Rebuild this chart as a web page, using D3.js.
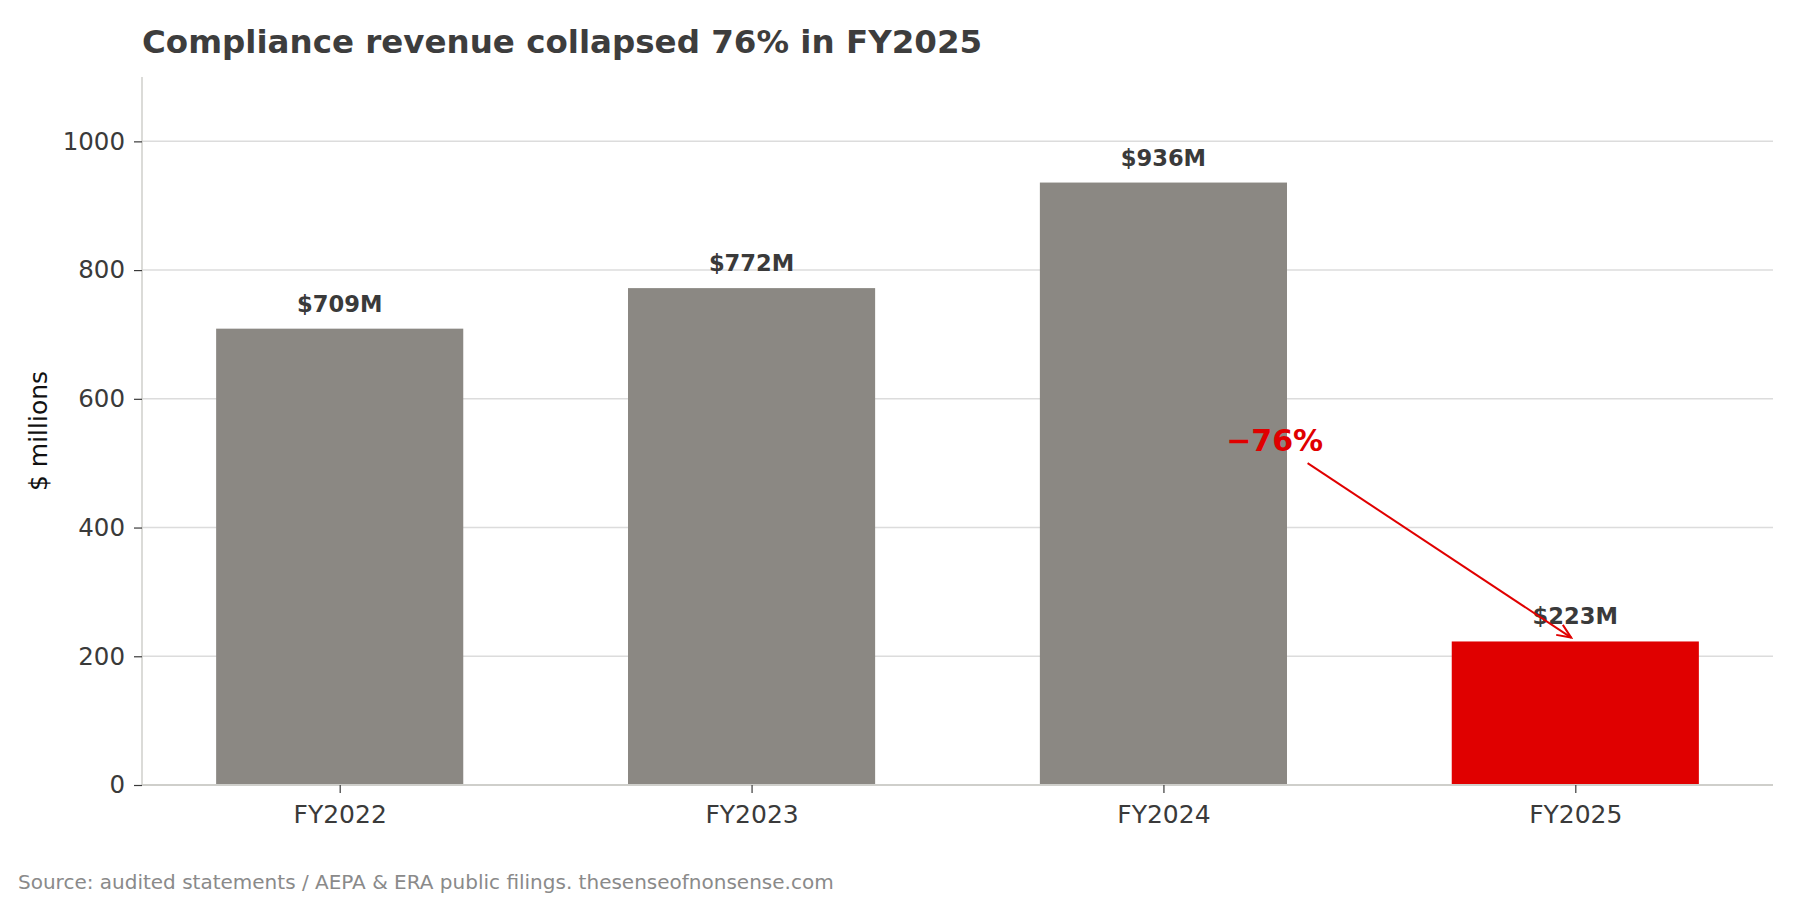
<!DOCTYPE html>
<html>
<head>
<meta charset="utf-8">
<script src="https://cdn.jsdelivr.net/npm/d3@7"></script>
<style>
  body { margin: 0; background: #fff; }
  svg { font-family: "DejaVu Sans", sans-serif; }
</style>
</head>
<body>
<div id="chart"></div>
<script>
// Chart data
const years = ["FY2022", "FY2023", "FY2024", "FY2025"];
const revenue = [709, 772, 936, 223];
const barColors = ["#8b8883", "#8b8883", "#8b8883", "#e00000"];
const yTicks = [0, 200, 400, 600, 800, 1000];

// Annotation: text position and arrow (in data units: bar index, $M)
const noteText = "\u221276%";
const notePos = [2.27, 535];
const arrowFrom = [2.35, 500];
const arrowTo = [2.99, 229];

const width = 1800;
const height = 900;
const margin = { top: 77, right: 27, bottom: 115, left: 142 };

const svg = d3.select("#chart")
    .append("svg")
    .attr("width", width)
    .attr("height", height);

// Scales (matplotlib-like: bars at integer positions, 5% x margins)
const x = d3.scaleLinear()
    .domain([-0.48, 3.48])
    .range([margin.left, width - margin.right]);

const y = d3.scaleLinear()
    .domain([0, 1100])
    .range([height - margin.bottom, margin.top]);

const barWidth = x(0.6) - x(0);

// Grid lines
svg.append("g")
    .selectAll("line")
    .data(yTicks.filter(d => d > 0))
    .join("line")
    .attr("x1", margin.left)
    .attr("x2", width - margin.right)
    .attr("y1", d => y(d))
    .attr("y2", d => y(d))
    .attr("stroke", "#dcdcdc")
    .attr("stroke-width", 1.5);

// Bars
svg.append("g")
    .selectAll("rect")
    .data(revenue)
    .join("rect")
    .attr("x", (d, i) => x(i) - barWidth / 2)
    .attr("y", d => y(d))
    .attr("width", barWidth)
    .attr("height", d => y(0) - y(d))
    .attr("fill", (d, i) => barColors[i]);

// Value labels
svg.append("g")
    .selectAll("text")
    .data(revenue)
    .join("text")
    .attr("x", (d, i) => x(i))
    .attr("y", d => y(d) - 17)
    .attr("text-anchor", "middle")
    .attr("font-size", 22.6)
    .attr("font-weight", "bold")
    .attr("fill", "#3a3a3a")
    .text(d => `$${d}M`);

// Y axis
const yAxis = svg.append("g")
    .attr("transform", `translate(${margin.left},0)`)
    .call(d3.axisLeft(y).tickValues(yTicks).tickSize(8).tickPadding(9).tickFormat(d3.format("d")));
yAxis.select(".domain").attr("stroke", "#cfcfcb").attr("stroke-width", 1.5)
    .attr("d", `M0,${y(0)}V${margin.top}`);
yAxis.selectAll(".tick line").attr("stroke", "#3a3a3a").attr("stroke-width", 1.2);
yAxis.selectAll(".tick text")
    .attr("font-size", 24.5)
    .attr("font-family", "DejaVu Sans")
    .attr("fill", "#3a3a3a");

// X axis
const xAxis = svg.append("g")
    .attr("transform", `translate(0,${y(0)})`)
    .call(d3.axisBottom(x).tickValues(d3.range(years.length)).tickSize(8).tickPadding(12)
        .tickFormat(i => years[i]));
xAxis.select(".domain").attr("stroke", "#cfcfcb").attr("stroke-width", 2)
    .attr("d", `M${margin.left},0H${width - margin.right}`);
xAxis.selectAll(".tick line").attr("stroke", "#3a3a3a").attr("stroke-width", 1.2);
xAxis.selectAll(".tick text")
    .attr("font-size", 25)
    .attr("font-family", "DejaVu Sans")
    .attr("fill", "#3a3a3a");

// Y axis label
svg.append("text")
    .attr("transform", `translate(47,${(y(0) + margin.top) / 2}) rotate(-90)`)
    .attr("text-anchor", "middle")
    .attr("font-size", 25)
    .attr("fill", "#111")
    .text("$ millions");

// Title
svg.append("text")
    .attr("x", margin.left)
    .attr("y", 53)
    .attr("font-size", 32.5)
    .attr("font-weight", "bold")
    .attr("fill", "#3d3d3d")
    .text("Compliance revenue collapsed 76% in FY2025");

// Annotation arrow
svg.append("defs").append("marker")
    .attr("id", "arrowhead")
    .attr("viewBox", "-16 -8 18 16")
    .attr("markerWidth", 18)
    .attr("markerHeight", 16)
    .attr("markerUnits", "userSpaceOnUse")
    .attr("orient", "auto")
    .append("path")
    .attr("d", "M-14,-6L0,0L-14,6")
    .attr("fill", "none")
    .attr("stroke", "#e00000")
    .attr("stroke-width", 2);

svg.append("line")
    .attr("x1", x(arrowFrom[0]))
    .attr("y1", y(arrowFrom[1]))
    .attr("x2", x(arrowTo[0]))
    .attr("y2", y(arrowTo[1]))
    .attr("stroke", "#e00000")
    .attr("stroke-width", 2)
    .attr("marker-end", "url(#arrowhead)");

svg.append("text")
    .attr("x", x(notePos[0]))
    .attr("y", y(notePos[1]))
    .attr("dy", "0.35em")
    .attr("text-anchor", "middle")
    .attr("font-size", 30)
    .attr("font-weight", "bold")
    .attr("fill", "#e00000")
    .text(noteText);

// Source note
svg.append("text")
    .attr("x", 18)
    .attr("y", 889)
    .attr("font-size", 20)
    .attr("fill", "#8a8a8a")
    .text("Source: audited statements / AEPA & ERA public filings. thesenseofnonsense.com");
</script>
</body>
</html>
